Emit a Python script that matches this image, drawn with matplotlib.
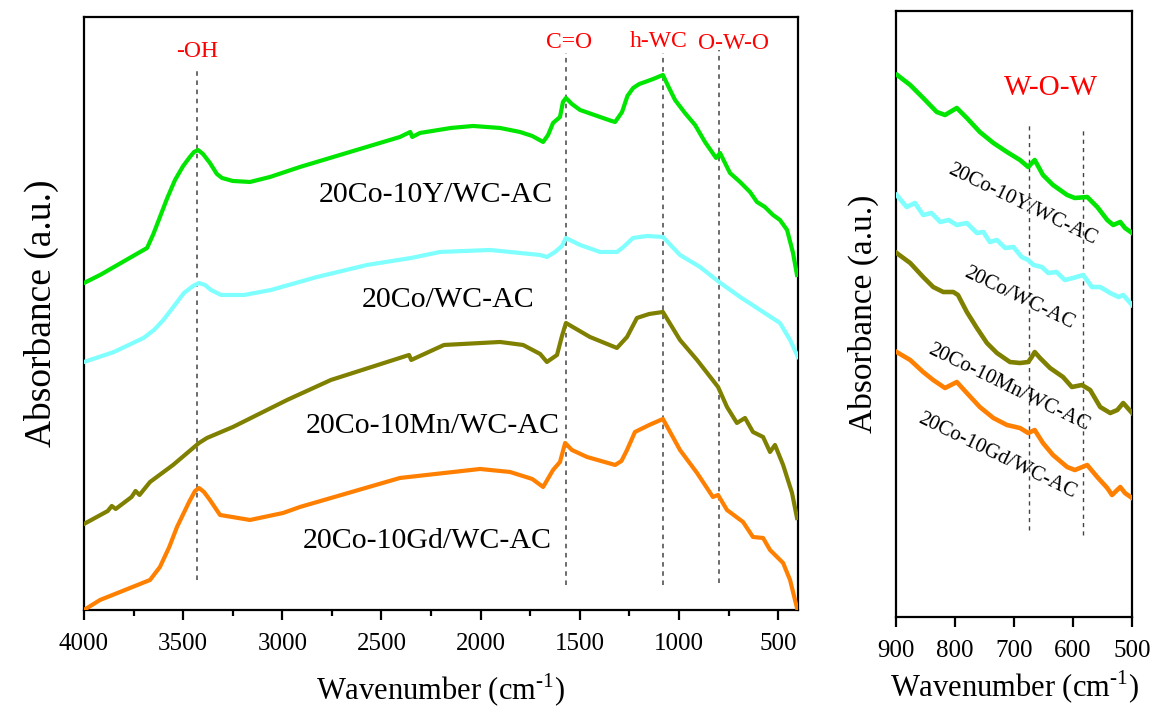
import numpy as np
import matplotlib
matplotlib.use('Agg')
import matplotlib.pyplot as plt
from matplotlib.ticker import MultipleLocator

plt.rcParams['font.family'] = ['Liberation Serif', 'DejaVu Serif']
plt.rcParams['mathtext.fontset'] = 'custom'
plt.rcParams['mathtext.rm'] = 'Liberation Serif'

names = ['20Co-10Y/WC-AC', '20Co/WC-AC', '20Co-10Mn/WC-AC', '20Co-10Gd/WC-AC']
colours = ['#00e600', '#80ffff', '#808000', '#ff8000']

# full range spectra (wavenumber, absorbance in a.u.)
y_wn = [4000, 3919, 3682, 3650, 3617, 3580, 3541, 3500, 3466, 3445, 3425, 3400, 3365, 3330, 3304, 3250,
        3163, 3062, 2911, 2659, 2407, 2355, 2345, 2306, 2150, 2038, 1902, 1802, 1740, 1685, 1660, 1635,
        1600, 1585, 1570, 1540, 1499, 1398, 1340, 1322, 1287, 1260, 1231, 1200, 1171, 1130, 1081, 1050,
        1020, 970, 919, 869, 813, 793, 743, 692, 642, 607, 567, 526, 491, 455, 425, 405]
y_abs = [3.27, 3.35, 3.62, 3.76, 3.93, 4.12, 4.30, 4.44, 4.53, 4.58, 4.60, 4.56, 4.47, 4.36, 4.32, 4.29,
         4.28, 4.33, 4.43, 4.58, 4.73, 4.78, 4.73, 4.77, 4.82, 4.84, 4.82, 4.78, 4.74, 4.68, 4.75, 4.87,
         4.93, 5.08, 5.12, 5.06, 5.00, 4.93, 4.89, 4.88, 4.98, 5.14, 5.22, 5.26, 5.28, 5.31, 5.35, 5.22,
         5.10, 4.97, 4.85, 4.68, 4.52, 4.57, 4.37, 4.28, 4.18, 4.08, 4.03, 3.95, 3.90, 3.80, 3.57, 3.35]

co_wn = [4000, 3849, 3700, 3647, 3600, 3561, 3496, 3450, 3420, 3390, 3360, 3309, 3193, 3057, 2825, 2573,
         2351, 2205, 1953, 1701, 1666, 1625, 1590, 1570, 1499, 1398, 1313, 1280, 1232, 1161, 1081, 995,
         894, 798, 692, 576, 491, 440, 400]
co_abs = [2.48, 2.58, 2.72, 2.80, 2.90, 3.00, 3.17, 3.24, 3.27, 3.25, 3.20, 3.15, 3.15, 3.20, 3.33, 3.45,
          3.52, 3.58, 3.60, 3.55, 3.53, 3.58, 3.64, 3.72, 3.65, 3.58, 3.58, 3.63, 3.72, 3.74, 3.73, 3.55,
          3.43, 3.28, 3.13, 2.98, 2.87, 2.70, 2.53]

mn_wn = [4000, 3880, 3860, 3840, 3760, 3740, 3720, 3667, 3551, 3420, 3380, 3249, 3077, 2976, 2755, 2361,
         2350, 2185, 1902, 1786, 1700, 1666, 1615, 1590, 1570, 1449, 1313, 1262, 1212, 1150, 1081, 995,
         909, 803, 758, 708, 667, 627, 576, 541, 516, 475, 430, 405]
mn_abs = [0.86, 0.99, 1.04, 1.01, 1.13, 1.19, 1.15, 1.28, 1.45, 1.67, 1.72, 1.83, 2.00, 2.10, 2.30, 2.55,
          2.50, 2.65, 2.68, 2.65, 2.56, 2.48, 2.55, 2.74, 2.87, 2.73, 2.62, 2.73, 2.92, 2.96, 2.98, 2.70,
          2.50, 2.23, 2.03, 1.87, 1.92, 1.78, 1.73, 1.58, 1.65, 1.45, 1.17, 0.92]

gd_wn = [4000, 3919, 3667, 3617, 3570, 3531, 3470, 3440, 3420, 3395, 3365, 3314, 3163, 2996, 2911, 2407,
         2003, 1852, 1740, 1685, 1635, 1600, 1574, 1540, 1464, 1322, 1290, 1262, 1222, 1150, 1081, 995,
         909, 829, 803, 758, 677, 627, 576, 541, 475, 440, 405]
gd_abs = [0.00, 0.10, 0.30, 0.43, 0.63, 0.83, 1.08, 1.19, 1.22, 1.18, 1.10, 0.95, 0.90, 0.97, 1.03, 1.32,
          1.41, 1.38, 1.31, 1.23, 1.40, 1.48, 1.67, 1.60, 1.53, 1.45, 1.49, 1.60, 1.78, 1.85, 1.91, 1.60,
          1.37, 1.13, 1.15, 1.00, 0.88, 0.73, 0.72, 0.60, 0.47, 0.30, 0.02]

# zoomed 900-500 region
zy_wn = [898, 876, 854, 831, 817, 797, 780, 758, 735, 712, 690, 676, 665, 651, 634, 610, 597, 576, 559,
         542, 532, 520, 512, 500]
zy_abs = [5.42, 5.32, 5.19, 5.05, 5.02, 5.09, 4.99, 4.85, 4.74, 4.65, 4.57, 4.50, 4.57, 4.42, 4.32, 4.22,
          4.19, 4.20, 4.10, 3.97, 3.92, 3.95, 3.89, 3.84]

zco_wn = [899, 882, 868, 854, 840, 825, 811, 797, 780, 763, 752, 741, 729, 715, 701, 687, 676, 667, 653,
          642, 628, 614, 600, 583, 568, 554, 537, 523, 515, 500]
zco_abs = [4.22, 4.10, 4.14, 4.02, 4.04, 3.95, 3.97, 3.92, 3.94, 3.84, 3.85, 3.75, 3.77, 3.69, 3.70, 3.60,
           3.57, 3.52, 3.50, 3.44, 3.45, 3.37, 3.39, 3.42, 3.30, 3.30, 3.24, 3.20, 3.22, 3.12]

zmn_wn = [899, 876, 854, 837, 820, 803, 795, 780, 763, 746, 729, 707, 690, 676, 670, 665, 656, 639, 617,
          602, 585, 571, 554, 537, 525, 515, 500]
zmn_abs = [3.64, 3.54, 3.40, 3.30, 3.25, 3.25, 3.22, 3.05, 2.89, 2.74, 2.64, 2.55, 2.54, 2.55, 2.60, 2.65,
           2.59, 2.49, 2.40, 2.30, 2.32, 2.27, 2.10, 2.04, 2.07, 2.14, 2.04]

zgd_wn = [899, 876, 854, 837, 817, 797, 780, 758, 735, 712, 690, 676, 665, 651, 634, 610, 597, 576, 559,
          542, 534, 520, 512, 500]
zgd_abs = [2.65, 2.57, 2.45, 2.37, 2.29, 2.35, 2.24, 2.10, 1.99, 1.92, 1.89, 1.84, 1.87, 1.74, 1.62, 1.50,
           1.47, 1.52, 1.40, 1.29, 1.22, 1.30, 1.24, 1.19]

peak_wn = [3430, 1570, 1081, 798]
peak_names = ['-OH', 'C=O', 'h-WC', 'O-W-O']
wow_wn = [675, 583]

full = [(y_wn, y_abs), (co_wn, co_abs), (mn_wn, mn_abs), (gd_wn, gd_abs)]
zoom = [(zy_wn, zy_abs), (zco_wn, zco_abs), (zmn_wn, zmn_abs), (zgd_wn, zgd_abs)]

fig = plt.figure(figsize=(11.52, 7.13), dpi=100)
ax1 = fig.add_axes([0.0729, 0.1445, 0.6198, 0.8317])
ax2 = fig.add_axes([0.7778, 0.1346, 0.2049, 0.8500])

for (wn, a), c in zip(full, colours):
    ax1.plot(wn, a, color=c, lw=3, solid_joinstyle='round', zorder=3)
for (wn, a), c in zip(zoom, colours):
    ax2.plot(wn, a, color=c, lw=3.3, solid_joinstyle='round', zorder=3)

# marker lines on the full spectrum
spans = [(0.30, 5.43), (0.25, 5.57), (0.25, 5.57), (0.27, 5.60)]
for w, (lo, hi) in zip(peak_wn, spans):
    ax1.plot([w, w], [lo, hi], color='#444444', lw=1.1, ls=(0, (3, 3)), zorder=2)
lab_pos = [(3430, 5.53), (1555, 5.62), (1101, 5.63), (723, 5.61)]
for t, (x, y) in zip(peak_names, lab_pos):
    ax1.text(x, y, t, color='red', fontsize=17, ha='center', va='baseline')

name_pos = [(2225, 4.08), (2165, 3.03), (2240, 1.77), (2271, 0.62)]
for t, (x, y) in zip(names, name_pos):
    ax1.text(x, y, t, fontsize=21.5, ha='center', va='baseline')

for w, (lo, hi) in zip(wow_wn, [(0.87, 4.94), (0.82, 4.89)]):
    ax2.plot([w, w], [lo, hi], color='#444444', lw=1.0, ls=(0, (3, 3)), zorder=2)
ax2.text(637, 5.22, 'W-O-W', color='red', fontsize=21, ha='center', va='baseline')

zname_pos = [(686, 4.12), (692, 3.19), (710, 2.29), (729, 1.61)]
for t, (x, y) in zip(names, zname_pos):
    ax2.text(x, y, t, fontsize=15, ha='center', va='center', rotation=-26,
             rotation_mode='anchor')

ax1.set_xlim(4000, 400)
ax1.set_ylim(0, 5.93)
ax1.xaxis.set_major_locator(MultipleLocator(500))
ax1.xaxis.set_minor_locator(MultipleLocator(250))
ax2.set_xlim(900, 500)
ax2.set_ylim(0, 6.06)
ax2.xaxis.set_major_locator(MultipleLocator(100))

for ax, lp in ((ax1, 12), (ax2, 5)):
    ax.set_yticks([])
    for s in ax.spines.values():
        s.set_linewidth(1.6)
    ax.tick_params(axis='x', which='major', direction='out', length=7.5, width=1.6,
                   labelsize=18, pad=9)
    ax.tick_params(axis='x', which='minor', direction='out', length=4, width=1.6)
    ax.set_xlabel('Wavenumber (cm$^{\\text{-1}}$)', fontsize=22, labelpad=lp)

ax1.set_ylabel('Absorbance (a.u.)', fontsize=27, labelpad=18)
ax2.set_ylabel('Absorbance (a.u.)', fontsize=24, labelpad=12)

fig.savefig('out.png', dpi=100)
